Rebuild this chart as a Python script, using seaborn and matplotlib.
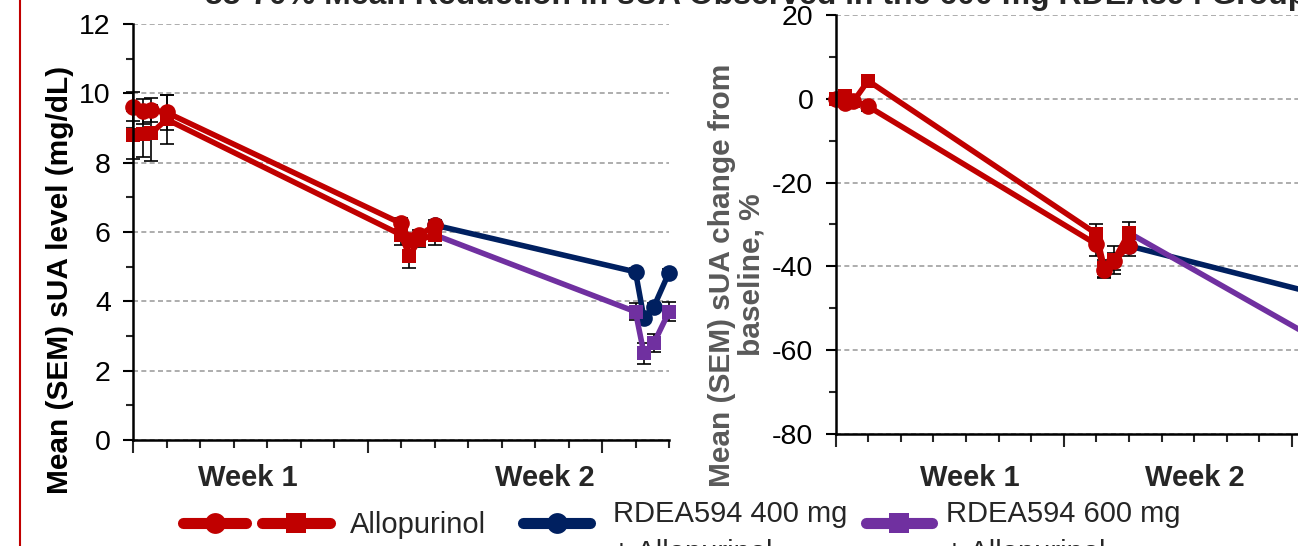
import matplotlib
matplotlib.use("Agg")
import matplotlib.pyplot as plt
from matplotlib.lines import Line2D
import seaborn as sns

# dias do estudo (eixo x) - fase allopurinol e fase RDEA594 + allopurinol
dias_allo = [0, 0.3, 0.55, 1, 8, 8.25, 8.55, 9]
dias_rdea = [9, 15, 15.25, 15.55, 16]

# sUA (mg/dL), grupo circulo (depois 400 mg) e grupo quadrado (depois 600 mg)
sua_circ = [9.62, 9.48, 9.52, 9.45, 6.25, 5.78, 5.90, 6.20]
sem_circ = [0.43, 0.36, 0.35, 0.50, 0.15, 0.15, 0.15, 0.15]
sua_quad = [8.80, 8.82, 8.85, 9.25, 5.92, 5.32, 5.77, 5.92]
sem_quad = [0.70, 0.65, 0.80, 0.70, 0.30, 0.35, 0.20, 0.30]
sua_400 = [6.20, 4.85, 3.52, 3.85, 4.83]
sem_400 = [0.15, 0.10, 0.10, 0.10, 0.10]
sua_600 = [5.92, 3.70, 2.50, 2.80, 3.70]
sem_600 = [0.30, 0.25, 0.30, 0.25, 0.27]

# variacao percentual desde o baseline
pct_circ = [0.0, -1.0, -0.6, -1.8, -34.7, -40.9, -38.8, -35.1]
sem_pct_circ = [0.0, 0.8, 0.8, 1.0, 2.9, 1.8, 2.0, 2.5]
pct_quad = [0.0, 0.6, -0.6, 4.3, -32.2, -40.5, -38.4, -32.0]
sem_pct_quad = [0.0, 0.8, 0.8, 1.2, 2.4, 2.0, 3.3, 2.7]
pct_400 = [-35.1, -47.0, -63.0, -60.0, -49.5]
pct_600 = [-32.0, -58.5, -71.5, -68.0, -57.5]

VERMELHO = "#C00000"
AZUL = "#002060"
ROXO = "#7030A0"

sns.set_theme(style="white")
plt.rcParams['font.family'] = ['Liberation Sans', 'DejaVu Sans']
plt.rcParams['axes.unicode_minus'] = False

W, H = 1298, 546
fig = plt.figure(figsize=(W / 100, H / 100), dpi=100)
ax1 = fig.add_axes([133 / W, 1 - 440 / H, 536 / W, 416 / H])
ax2 = fig.add_axes([835.5 / W, 1 - 434 / H, 521.6 / W, 419 / H])


def serie(ax, x, y, cor, marcador, tam):
    sns.lineplot(x=x, y=y, ax=ax, color=cor, marker=marcador, markersize=tam,
                 markeredgewidth=0, linewidth=4, errorbar=None, zorder=3)


def barras(ax, x, y, e):
    ax.errorbar(x, y, yerr=e, fmt='none', ecolor='black', elinewidth=1.2,
                capsize=5, capthick=1.2, zorder=2, clip_on=False)


# painel esquerdo
barras(ax1, dias_allo, sua_circ, sem_circ)
barras(ax1, dias_allo, sua_quad, sem_quad)
barras(ax1, dias_rdea[1:], sua_400[1:], sem_400[1:])
barras(ax1, dias_rdea[1:], sua_600[1:], sem_600[1:])
serie(ax1, dias_rdea, sua_400, AZUL, 'o', 12)
serie(ax1, dias_rdea, sua_600, ROXO, 's', 10.5)
serie(ax1, dias_allo, sua_quad, VERMELHO, 's', 10.5)
serie(ax1, dias_allo, sua_circ, VERMELHO, 'o', 12)

# painel direito
barras(ax2, dias_allo, pct_circ, sem_pct_circ)
barras(ax2, dias_allo, pct_quad, sem_pct_quad)
serie(ax2, dias_rdea, pct_400, AZUL, 'o', 12)
serie(ax2, dias_rdea, pct_600, ROXO, 's', 10.5)
serie(ax2, dias_allo, pct_quad, VERMELHO, 's', 10.5)
serie(ax2, dias_allo, pct_circ, VERMELHO, 'o', 12)

for ax, lim, passo in [(ax1, (0, 12), 2), (ax2, (-80, 20), 20)]:
    for ln in ax.lines:
        ln.set_clip_on(False)
    ax.set_xlim(0, 16)
    ax.set_ylim(*lim)
    ax.set_xticks([0, 7, 14])
    ax.set_xticks([d for d in range(17) if d not in (0, 7, 14)], minor=True)
    ax.set_xticklabels([])
    ax.set_yticks(range(lim[0], lim[1] + 1, passo))
    ax.set_yticks(range(lim[0], lim[1] + 1, passo // 2), minor=True)
    ax.tick_params(axis='y', which='major', direction='out', length=7, width=1.5,
                   labelsize=20.5, pad=9, colors='black', left=True)
    ax.tick_params(axis='y', which='minor', direction='out', length=5, width=1.5, left=True)
    ax.tick_params(axis='x', which='major', direction='out', length=9, width=1.5, bottom=True)
    ax.tick_params(axis='x', which='minor', direction='out', length=6, width=1.5, bottom=True)
    ax.grid(False)
    ax.yaxis.grid(True, which='major', linestyle=(0, (3, 2)), color='#A0A0A0', linewidth=1.2)
    ax.set_axisbelow(True)
    for lado in ['top', 'right']:
        ax.spines[lado].set_visible(False)
    for lado in ['left', 'bottom']:
        ax.spines[lado].set_color('black')
        ax.spines[lado].set_linewidth(1.8)
        ax.spines[lado].set_zorder(4)
    ax.set_xlabel('')
    ax.set_ylabel('')

# rotulos dos eixos
fig.text(60 / W, 1 - 280 / H, 'Mean (SEM) sUA level (mg/dL)', rotation=90,
         ha='center', va='center', fontsize=21.5, fontweight='bold', color='black')
fig.text(737 / W, 1 - 275 / H, 'Mean (SEM) sUA change from\nbaseline, %', rotation=90,
         ha='center', va='center', fontsize=21.5, fontweight='bold', color='#595959',
         linespacing=1.05, multialignment='center')

for xp, txt in [(248, 'Week 1'), (545, 'Week 2'), (970, 'Week 1'), (1195, 'Week 2')]:
    fig.text(xp / W, 1 - 478 / H, txt, ha='center', va='center', fontsize=21, fontweight='bold')

# titulo cortado no topo
fig.text(205 / W, 1 - 4 / H, '55-70% Mean Reduction in sUA Observed in the 600 mg RDEA594 Group',
         ha='left', va='baseline', fontsize=23, fontweight='bold')

# borda vermelha do slide
fig.add_artist(Line2D([20 / W, 20 / W], [0, 1], color=VERMELHO, linewidth=1.5))

# legenda manual
yl = 1 - 523 / H
for x0, x1, cor, m, ms in [(183, 246, VERMELHO, 'o', 15), (262, 330, VERMELHO, 's', 15),
                           (523, 590, AZUL, 'o', 15), (866, 932, ROXO, 's', 15)]:
    fig.add_artist(Line2D([x0 / W, (x0 + x1) / 2 / W, x1 / W], [yl] * 3, color=cor, linewidth=8,
                          solid_capstyle='round', marker=m, markersize=ms, markevery=[1],
                          markeredgewidth=0))
fig.text(350 / W, 1 - 533 / H, 'Allopurinol', ha='left', va='baseline', fontsize=21)
fig.text(613 / W, 1 - 500 / H, 'RDEA594 400 mg\n+ Allopurinol', ha='left', va='top',
         fontsize=21, linespacing=1.5)
fig.text(946 / W, 1 - 500 / H, 'RDEA594 600 mg\n+ Allopurinol', ha='left', va='top',
         fontsize=21, linespacing=1.5)

fig.savefig('out.png', dpi=100)
